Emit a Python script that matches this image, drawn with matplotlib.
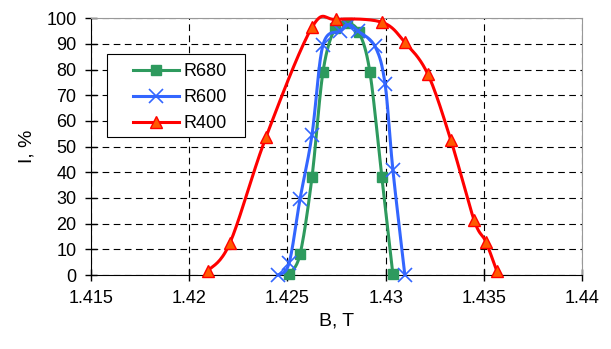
import numpy as np
import matplotlib
matplotlib.use("Agg")
import matplotlib.pyplot as plt
from matplotlib.patches import Rectangle

plt.rcParams['font.family'] = ['Liberation Sans', 'DejaVu Sans']

# data
b_r680 = [1.42508, 1.42564, 1.42625, 1.42681, 1.42742, 1.42803, 1.42864, 1.42920, 1.42981, 1.43037]
i_r680 = [0.5, 8, 38, 79, 96, 98, 94.5, 79, 38, 0.3]

b_r600 = [1.42452, 1.42508, 1.42564, 1.42625, 1.42681, 1.42768, 1.42808, 1.42859, 1.42946, 1.42997, 1.43037, 1.43098]
i_r600 = [0, 4.5, 29.5, 54.5, 89.5, 95, 97.5, 95, 89, 74.5, 41, 0]

b_r400 = [1.42096, 1.42208, 1.42391, 1.42625, 1.42747, 1.42981, 1.43098, 1.43215, 1.43332, 1.43450, 1.43510, 1.43567]
i_r400 = [1.7, 12.6, 53.7, 96.4, 99.5, 98.4, 90.6, 78.2, 52.6, 21.5, 13, 1.4]

x_ticks = [1.415, 1.42, 1.425, 1.43, 1.435, 1.44]
x_labels = ['1.415', '1.42', '1.425', '1.43', '1.435', '1.44']


def smooth(x, y, n=20):
    # Catmull-Rom like smoothing, similar to Excel's smoothed line
    x = np.asarray(x, float)
    y = np.asarray(y, float)
    px = np.concatenate([[x[0]], x, [x[-1]]])
    py = np.concatenate([[y[0]], y, [y[-1]]])
    t = np.linspace(0, 1, n)
    xs, ys = [], []
    for k in range(1, len(px) - 2):
        p0, p1, p2, p3 = [np.array([px[j], py[j]]) for j in (k - 1, k, k + 1, k + 2)]
        c1 = p1 + (p2 - p0) / 6
        c2 = p2 - (p3 - p1) / 6
        pts = ((1 - t)[:, None] ** 3 * p1 + 3 * ((1 - t) ** 2 * t)[:, None] * c1
               + 3 * ((1 - t) * t ** 2)[:, None] * c2 + (t ** 3)[:, None] * p2)
        xs.extend(pts[:, 0])
        ys.extend(pts[:, 1])
    return xs, ys


fig = plt.figure(figsize=(6.11, 3.49), dpi=100)
ax = fig.add_axes([0.149, 0.212, 0.8035, 0.736])

series = [
    ('R680', b_r680, i_r680, '#2e9a5e', dict(marker='s', ms=7, mfc='#2e9a5e', mec='#2e9a5e')),
    ('R600', b_r600, i_r600, '#3366ff', dict(marker='x', ms=10, mew=1.2, mec='#3366ff')),
    ('R400', b_r400, i_r400, '#ff0000', dict(marker='^', ms=9, mfc='#ff5a00', mec='#ff0000', mew=1.0)),
]
handles = []
for z, (name, bx, iy, col, mk) in enumerate(series):
    sx, sy = smooth(bx, iy)
    ax.plot(sx, sy, color=col, lw=2.2, zorder=3 + z, clip_on=False)
    ax.plot(bx, iy, ls='none', zorder=3 + z, clip_on=False, **mk)
    h, = ax.plot([], [], color=col, lw=2.2, **mk)
    handles.append(h)

ax.set_xlim(1.415, 1.44)
ax.set_ylim(0, 100)
ax.set_xticks(x_ticks)
ax.set_xticklabels(x_labels)
ax.set_yticks(np.arange(0, 101, 10))
ax.tick_params(direction='inout', length=9, width=1, labelsize=13, pad=6)
ax.grid(True, color='black', lw=0.8, ls=(0, (6, 4)))
ax.set_axisbelow(True)
for s in ('top', 'right'):
    ax.spines[s].set_color('#999999')
ax.set_xlabel('B, T', fontsize=14, labelpad=4)
ax.set_ylabel('I, %', fontsize=14, labelpad=8)

# legend box drawn separately to get the Excel-like proportions
box = Rectangle((0.0326, 0.537), 0.281, 0.323, transform=ax.transAxes,
                facecolor='white', edgecolor='black', lw=0.8, zorder=8)
ax.add_patch(box)
leg = ax.legend(handles, ['R680', 'R600', 'R400'], loc='upper left',
                bbox_to_anchor=(0.0855, 0.826), borderaxespad=0, borderpad=0,
                fontsize=13, frameon=False, handlelength=2.55,
                handletextpad=0.25, labelspacing=0.5)
leg.set_zorder(9)

fig.savefig('out.png', dpi=100)
